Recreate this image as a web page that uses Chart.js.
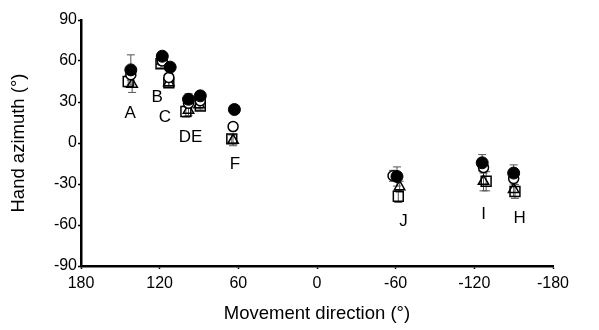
<!DOCTYPE html>
<html>
<head>
<meta charset="utf-8">
<script src="https://cdn.jsdelivr.net/npm/chart.js@4/dist/chart.umd.min.js"></script>
<style>
  html, body { margin: 0; padding: 0; background: #fff; }
  #wrap { width: 599px; height: 330px; }
</style>
</head>
<body>
<div id="wrap"><canvas id="myChart" width="599" height="330"></canvas></div>
<script>
// data (degrees)
var groups = ['A', 'B', 'C', 'D', 'E', 'F', 'J', 'I', 'H'];

var filledX = [142, 118, 112, 98, 89, 63, -61, -126, -150];
var filledY = [53.5, 63.5, 55.5, 32, 34.5, 24.5, -24.5, -14.5, -22];
var filledErr = [11, 3, 3, 4, 3, 2, 7, 6, 6];

var openX = [142, 118, 113, 98, 89, 64, -58, -127, -150];
var openY = [50, 60, 48, 29, 31, 12, -24, -18, -26];
var openErr = [4, 3, 3, 3, 3, 3, 4, 4, 4];

var squareX = [144, 119, 113, 100, 89, 65, -62, -129, -151];
var squareY = [45, 58, 44, 23, 27, 3, -39, -28, -35.5];
var squareErr = [4, 3, 3, 4, 3, 3, 4.5, 7, 5];

var triX = [141, 118, 113, 98, 90, 64, -63, -127, -150];
var triY = [43, 60, 44, 24, 28, 2, -32, -28, -34];
var triErr = [6, 3, 3, 4, 3, 4, 4, 7, 5];

// letter labels (data coordinates)
var labelText = ['A', 'B', 'C', 'DE', 'F', 'J', 'I', 'H'];
var labelX = [142.5, 122, 116, 96.5, 62.5, -66, -127, -154.5];
var labelY = [22, 33.5, 19, 4, -15.5, -57, -52, -55];

var xTicks = [180, 120, 60, 0, -60, -120, -180];
var yTicks = [90, 60, 30, 0, -30, -60, -90];

function pts(xs, ys) {
    return xs.map(function (x, i) { return { x: x, y: ys[i] }; });
}

var errs = [filledErr, openErr, squareErr, triErr];

var errorBars = {
    id: 'errorBars',
    beforeDatasetsDraw: function (chart) {
        var c = chart.ctx, xs = chart.scales.x, ys = chart.scales.y;
        c.save();
        c.strokeStyle = '#555';
        c.lineWidth = 1;
        chart.data.datasets.forEach(function (ds, d) {
            ds.data.forEach(function (p, i) {
                var e = errs[d][i];
                var px = xs.getPixelForValue(p.x);
                var top = ys.getPixelForValue(p.y + e);
                var bot = ys.getPixelForValue(p.y - e);
                c.beginPath();
                c.moveTo(px, top); c.lineTo(px, bot);
                c.moveTo(px - 4, top); c.lineTo(px + 4, top);
                c.moveTo(px - 4, bot); c.lineTo(px + 4, bot);
                c.stroke();
            });
        });
        c.restore();
    }
};

var letters = {
    id: 'letters',
    afterDatasetsDraw: function (chart) {
        var c = chart.ctx, xs = chart.scales.x, ys = chart.scales.y;
        c.save();
        c.fillStyle = '#000';
        c.font = '17px "Liberation Sans", Arial, sans-serif';
        c.textAlign = 'center';
        c.textBaseline = 'middle';
        labelText.forEach(function (t, i) {
            c.fillText(t, xs.getPixelForValue(labelX[i]), ys.getPixelForValue(labelY[i]));
        });
        c.restore();
    }
};

Chart.defaults.font.family = '"Liberation Sans", Arial, sans-serif';
Chart.defaults.color = '#000';

var ctx = document.getElementById('myChart').getContext('2d');

var myChart = new Chart(ctx, {
    type: 'scatter',
    data: {
        datasets: [{
            label: 'filled',
            data: pts(filledX, filledY),
            pointStyle: 'circle',
            pointRadius: 6,
            backgroundColor: '#000',
            borderColor: '#000',
            borderWidth: 1
        }, {
            label: 'open',
            data: pts(openX, openY),
            pointStyle: 'circle',
            pointRadius: 5,
            backgroundColor: '#fff',
            borderColor: '#000',
            borderWidth: 1.5
        }, {
            label: 'square',
            data: pts(squareX, squareY),
            pointStyle: 'rect',
            pointRadius: 7,
            backgroundColor: 'rgba(255,255,255,0)',
            borderColor: '#000',
            borderWidth: 1.5
        }, {
            label: 'triangle',
            data: pts(triX, triY),
            pointStyle: 'triangle',
            pointRadius: 6,
            backgroundColor: 'rgba(255,255,255,0)',
            borderColor: '#000',
            borderWidth: 1.5
        }]
    },
    options: {
        responsive: false,
        animation: false,
        layout: { padding: { left: 0, right: 46, top: 20, bottom: 0 } },
        plugins: {
            legend: { display: false },
            tooltip: { enabled: false }
        },
        scales: {
            x: {
                type: 'linear',
                reverse: true,
                min: -180,
                max: 180,
                afterBuildTicks: function (s) { s.ticks = xTicks.map(function (v) { return { value: v }; }); },
                afterFit: function (s) { s.height = 64; },
                grid: { display: true, drawOnChartArea: false, drawTicks: true, tickLength: 3, color: '#000', tickWidth: 1.5 },
                border: { display: true, color: '#000', width: 2.5 },
                ticks: { font: { size: 16 }, padding: 5, maxRotation: 0 },
                title: { display: true, text: 'Movement direction (°)', font: { size: 18.5 }, padding: { top: 4, bottom: 5 } }
            },
            y: {
                type: 'linear',
                min: -90,
                max: 90,
                afterBuildTicks: function (s) { s.ticks = yTicks.map(function (v) { return { value: v }; }); },
                afterFit: function (s) { s.width = 81; },
                grid: { display: true, drawOnChartArea: false, drawTicks: true, tickLength: 3, color: '#000', tickWidth: 1.5 },
                border: { display: true, color: '#000', width: 2.5 },
                ticks: { font: { size: 16 }, padding: 1 },
                title: { display: true, text: 'Hand azimuth (°)', font: { size: 18.5 }, padding: { top: 8, bottom: 4 } }
            }
        }
    },
    plugins: [errorBars, letters]
});
</script>
</body>
</html>
